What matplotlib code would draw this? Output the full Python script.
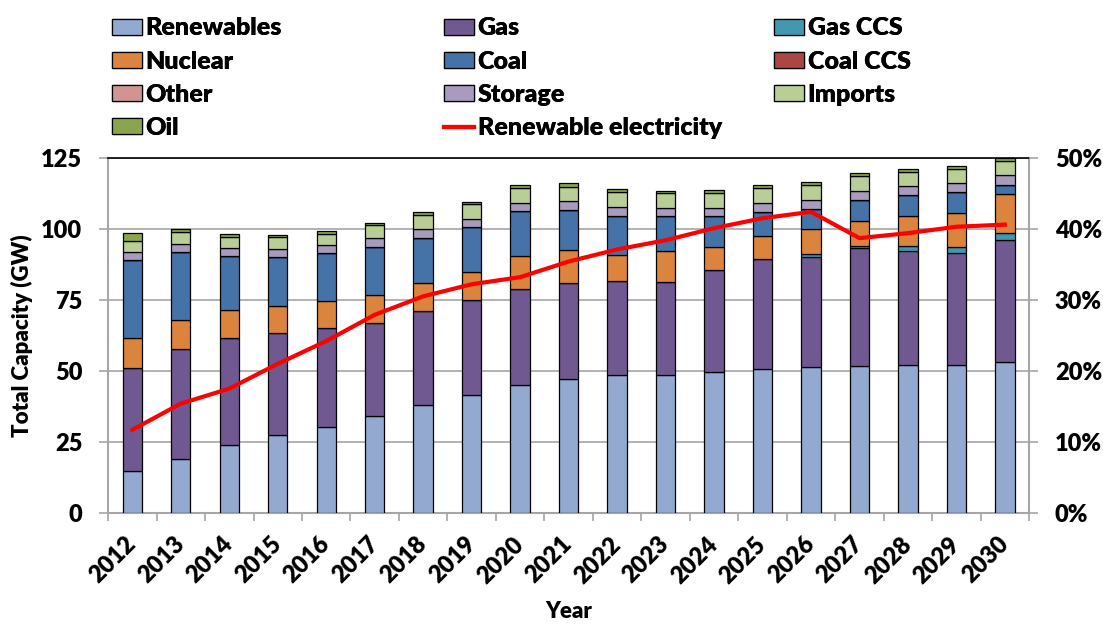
import numpy as np
import matplotlib
matplotlib.use("Agg")
import matplotlib.pyplot as plt
from matplotlib.patches import Patch
from matplotlib.lines import Line2D
from matplotlib.ticker import FuncFormatter, MultipleLocator

plt.rcParams['font.family'] = ['Lato', 'DejaVu Sans']
plt.rcParams['font.weight'] = 'heavy'

# data (GW)
years = [str(y) for y in range(2012, 2031)]
renewables = [14.8, 19.1, 23.9, 27.6, 30.4, 34.0, 38.1, 41.4, 45.2, 47.3,
              48.5, 48.7, 49.6, 50.7, 51.2, 51.6, 52.1, 52.1, 53.3]
gas = [36.3, 38.6, 37.8, 35.8, 34.7, 32.8, 33.1, 33.4, 33.8, 33.7,
       33.1, 32.6, 35.8, 38.6, 38.9, 41.5, 40.2, 39.4, 42.7]
gas_ccs = [0, 0, 0, 0, 0, 0, 0, 0, 0, 0,
           0, 0, 0, 0, 1.0, 0.8, 1.8, 2.2, 2.5]
nuclear = [10.4, 10.3, 9.8, 9.5, 9.5, 10.0, 9.8, 10.1, 11.5, 11.7,
           9.1, 10.8, 8.3, 8.2, 8.7, 8.9, 10.5, 11.9, 13.8]
coal = [27.5, 24.0, 18.9, 17.2, 16.9, 16.9, 15.7, 15.6, 15.7, 14.1,
        14.0, 12.4, 10.8, 8.5, 7.2, 7.4, 7.4, 7.4, 3.3]
coal_ccs = [0] * 19
other = [0] * 19
storage = [2.8, 2.8, 2.7, 2.9, 2.9, 3.2, 3.1, 3.0, 3.0, 2.9,
           3.0, 2.8, 2.8, 3.2, 3.2, 3.1, 3.0, 3.2, 3.3]
imports = [4.1, 4.0, 4.2, 4.1, 3.8, 4.3, 5.1, 5.2, 5.1, 5.2,
           5.3, 5.3, 5.4, 5.1, 5.3, 5.2, 5.2, 4.9, 5.0]
oil = [2.7, 1.2, 0.9, 0.9, 1.2, 0.9, 1.1, 0.9, 1.1, 1.1,
       1.0, 0.9, 0.9, 1.1, 0.9, 1.1, 1.0, 1.2, 1.0]
# renewable share of electricity (%)
ren_elec = [11.7, 15.4, 17.5, 21.0, 24.2, 27.9, 30.5, 32.2, 33.2, 35.4,
            37.1, 38.4, 40.1, 41.5, 42.4, 38.7, 39.4, 40.3, 40.6]

series = [
    ("Renewables", renewables, "#93A9CF"),
    ("Gas", gas, "#705890"),
    ("Gas CCS", gas_ccs, "#4198AF"),
    ("Nuclear", nuclear, "#DB843D"),
    ("Coal", coal, "#4572A7"),
    ("Coal CCS", coal_ccs, "#AA4643"),
    ("Other", other, "#D09493"),
    ("Storage", storage, "#A99BBD"),
    ("Imports", imports, "#B9CD96"),
    ("Oil", oil, "#89A54E"),
]

fig = plt.figure(figsize=(11.03, 6.24), dpi=100)
ax = fig.add_axes([0.098, 0.178, 0.835, 0.569])
x = np.arange(len(years))
bottom = np.zeros(len(years))
for name, vals, col in series:
    vals = np.array(vals, dtype=float)
    ax.bar(x, vals, 0.4, bottom=bottom, color=col, edgecolor='black',
           linewidth=0.9, zorder=3)
    bottom += vals

ax.set_xlim(-0.5, len(years) - 0.5)
ax.set_ylim(0, 125)
ax.yaxis.set_major_locator(MultipleLocator(25))
ax.grid(axis='y', color='#A6A6A6', linewidth=1.2, zorder=0)
ax.set_xticks(x)
ax.set_xticklabels(years, rotation=45, ha='right', va='center',
                   rotation_mode='anchor', fontsize=17, fontweight='heavy')
ax.set_xticks(np.arange(-0.5, len(years)), minor=True)
ax.tick_params(axis='x', which='major', length=0, pad=20)
ax.tick_params(axis='x', which='minor', length=6, color='#A6A6A6', width=1.2)
ax.tick_params(axis='y', length=6.5, color='#A6A6A6', width=1.2,
               labelsize=17, pad=12)
for s in ['left', 'right', 'bottom']:
    ax.spines[s].set_color('#A6A6A6')
    ax.spines[s].set_linewidth(1.5)
ax.spines['top'].set_color('black')
ax.spines['top'].set_linewidth(1.2)
ax.set_ylabel("Total Capacity (GW)", fontsize=16, fontweight='heavy',
              labelpad=6)
ax.set_xlabel("Year", fontsize=16, fontweight='heavy', labelpad=10)

ax2 = ax.twinx()
ax2.plot(x, ren_elec, color='red', linewidth=3, zorder=5)
ax2.set_ylim(0, 50)
ax2.yaxis.set_major_locator(MultipleLocator(10))
ax2.yaxis.set_major_formatter(FuncFormatter(lambda v, p: f"{v:.0f}%"))
ax2.tick_params(axis='y', length=6.5, color='#A6A6A6', width=1.2,
                labelsize=17, pad=12)
for s in ['left', 'right', 'bottom', 'top']:
    ax2.spines[s].set_visible(False)

# legend: three single-column legends, like Excel's grid
h = {name: Patch(facecolor=col, edgecolor='black', linewidth=0.9)
     for name, _, col in series}
h["Renewable electricity"] = Line2D([0], [0], color='red', linewidth=3)
cols = [["Renewables", "Nuclear", "Other", "Oil"],
        ["Gas", "Coal", "Storage", "Renewable electricity"],
        ["Gas CCS", "Coal CCS", "Imports"]]
xs = [0.1015, 0.4025, 0.7017]
for names, xpos in zip(cols, xs):
    leg = fig.legend([h[n] for n in names], names, loc='upper left',
                     bbox_to_anchor=(xpos, 0.972), frameon=False,
                     prop={'size': 18, 'weight': 'heavy'},
                     handlelength=1.2, handleheight=0.6, handletextpad=0.15,
                     labelspacing=0.45, borderpad=0, borderaxespad=0)
    fig.add_artist(leg)

fig.savefig("out.png", dpi=100)
